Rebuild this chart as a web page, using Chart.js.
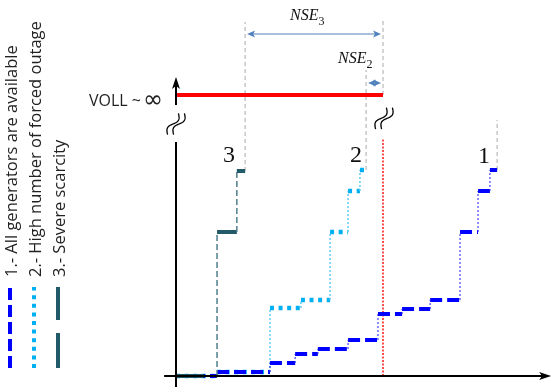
<!DOCTYPE html>
<html><head><meta charset="utf-8">
<script src="https://cdn.jsdelivr.net/npm/chart.js@4.4.1/dist/chart.umd.min.js"></script>
<style>html,body{margin:0;padding:0;background:#fff;}canvas{display:block;}</style>
</head><body>
<canvas id="c" width="552" height="388"></canvas>
<script>
// ---------- data ----------
const seriesLabels = ["1.- All generators are available", "2.- High number of forced outage", "3.- Severe scarcity"];
const curveTags = ["1", "2", "3"];
// supply curves: block edges (quantity) and block prices
const s1Edges  = [0, 11.4, 26.1, 33.1, 39.4, 47.8, 56.1, 62.8, 70.6, 78.9, 83.9, 87.2, 89.2];
const s1Prices = [0, 2, 6.5, 11, 13.5, 18, 31, 33.5, 38, 72, 92.5, 103];
const s2Edges  = [0, 11.4, 26.1, 34.7, 42.8, 47.8, 51.1, 52.8];
const s2Prices = [0, 2, 34, 38, 72, 92.5, 103];
const s3Edges  = [0, 11.4, 16.9, 19.2];
const s3Prices = [0, 72, 102.5];
const demand = 57.5;      // inelastic demand quantity
const voll = 140.5;       // value of lost load level (beyond axis break)
const nse3 = [19.2, 57.5];  // non-served energy, scenario 3
const nse2 = [52.8, 57.5];  // non-served energy, scenario 2

function stepPoints(edges, prices) {
  const pts = [];
  for (let i = 0; i < prices.length; i++) {
    pts.push({x: edges[i], y: prices[i]});
    pts.push({x: edges[i + 1], y: prices[i]});
  }
  return pts;
}
function stepSeg(h, v) {
  const isH = c => c.p0.parsed.y === c.p1.parsed.y;
  return {
    borderWidth: c => isH(c) ? h.w : v.w,
    borderColor: c => isH(c) ? h.c : v.c,
    borderDash: c => isH(c) ? h.d : v.d
  };
}
const styles = [
  {h: {c: '#0000ff', w: 4, d: [12, 5]}, v: {c: 'rgba(40,40,255,0.7)', w: 1.5, d: [2, 2]}},
  {h: {c: '#00b0f0', w: 4.5, d: [4, 4.6]}, v: {c: '#62cdf3', w: 1.5, d: [2, 2]}},
  {h: {c: '#235a69', w: 4, d: [28, 12]}, v: {c: '#4f7f8c', w: 1.5, d: [6, 3]}}
];
const curves = [stepPoints(s1Edges, s1Prices), stepPoints(s2Edges, s2Prices), stepPoints(s3Edges, s3Prices)];
const tops = [s1Prices[s1Prices.length - 1], s2Prices[s2Prices.length - 1], s3Prices[s3Prices.length - 1]];
const ends = [s1Edges[s1Edges.length - 1], s2Edges[s2Edges.length - 1], s3Edges[s3Edges.length - 1]];

const datasets = [];
curves.forEach((pts, i) => {
  datasets.push({
    label: seriesLabels[i], data: pts, pointRadius: 0, clip: false, fill: false,
    borderColor: styles[i].h.c, borderWidth: styles[i].h.w,
    segment: stepSeg(styles[i].h, styles[i].v), order: i === 1 ? 2 : (i === 0 ? 1 : 0)
  });
});
// guides (grey dashed) at end of each curve and at demand
const guideDefs = [
  {x: ends[2], y0: tops[2], y1: 177},
  {x: ends[1], y0: tops[1], y1: 153},
  {x: demand, y0: voll, y1: 179},
  {x: ends[0], y0: tops[0], y1: 128}
];
guideDefs.forEach(g => datasets.push({
  label: '_guide', data: [{x: g.x, y: g.y0}, {x: g.x, y: g.y1}], pointRadius: 0, clip: false,
  borderColor: '#aaaaaa', borderWidth: 1, borderDash: [4, 3], order: 5
}));
datasets.push({label: '_demand', data: [{x: demand, y: 0}, {x: demand, y: 119}], pointRadius: 0, clip: false,
  borderColor: '#ff5050', borderWidth: 2, borderDash: [2, 1.5], order: 4});
datasets.push({label: '_voll', data: [{x: 0.3, y: voll}, {x: demand, y: voll}], pointRadius: 0, clip: false,
  borderColor: '#ff0000', borderWidth: 4, order: 3});

function arrowHead(ctx, x, y, dir, len, half) {
  ctx.beginPath();
  ctx.moveTo(x, y);
  ctx.lineTo(x - dir * len, y - half);
  ctx.lineTo(x - dir * len * 0.75, y);
  ctx.lineTo(x - dir * len, y + half);
  ctx.closePath();
  ctx.fill();
}
function squiggle(ctx, cx, cy) {
  ctx.save();
  ctx.strokeStyle = '#000'; ctx.lineWidth = 1.3;
  const ux = 0.45, uy = -0.89, nx = 0.89, ny = 0.45;
  [-3, 3].forEach(dx => {
    ctx.beginPath();
    for (let k = 0; k <= 30; k++) {
      const t = -1 + 2 * k / 30;
      const a = t * 12, p = 3.2 * Math.sin(Math.PI * t);
      const x = cx + dx + ux * a + nx * p, y = cy + uy * a + ny * p;
      if (k === 0) ctx.moveTo(x, y); else ctx.lineTo(x, y);
    }
    ctx.stroke();
  });
  ctx.restore();
}

const deco = {
  id: 'deco',
  afterDatasetsDraw(chart) {
    const ctx = chart.ctx, xs = chart.scales.x, ys = chart.scales.y;
    const X = v => xs.getPixelForValue(v), Y = v => ys.getPixelForValue(v);
    ctx.save();
    // axes
    ctx.strokeStyle = '#000'; ctx.fillStyle = '#000'; ctx.lineWidth = 2;
    ctx.beginPath(); ctx.moveTo(X(0), Y(-5.5)); ctx.lineTo(X(0), Y(117)); ctx.stroke();
    ctx.beginPath(); ctx.moveTo(X(0), Y(135.5)); ctx.lineTo(X(0), Y(145)); ctx.stroke();
    ctx.beginPath(); ctx.moveTo(X(0), Y(149.5)); ctx.lineTo(X(0) - 4, Y(149.5) + 12); ctx.lineTo(X(0), Y(149.5) + 9); ctx.lineTo(X(0) + 4, Y(149.5) + 12); ctx.closePath(); ctx.fill();
    ctx.beginPath(); ctx.moveTo(X(-3.3), Y(0)); ctx.lineTo(X(102), Y(0)); ctx.stroke();
    arrowHead(ctx, X(104.2), Y(0), 1, 12, 4);
    squiggle(ctx, X(0), Y(126));
    squiggle(ctx, X(demand) + 1, Y(128.8));
    // NSE arrows
    ctx.strokeStyle = '#4f81bd'; ctx.fillStyle = '#4f81bd'; ctx.lineWidth = 1.2;
    [[nse3, 171], [nse2, 146.5]].forEach(([r, yv]) => {
      const a = X(r[0]) + 2, b = X(r[1]) - 2, y = Y(yv);
      ctx.beginPath(); ctx.moveTo(a + 4, y); ctx.lineTo(b - 4, y); ctx.stroke();
      arrowHead(ctx, a, y, -1, 8, 3.5);
      arrowHead(ctx, b, y, 1, 8, 3.5);
    });
    // NSE labels
    ctx.fillStyle = '#111'; ctx.textBaseline = 'alphabetic'; ctx.textAlign = 'left';
    [['3', 290, 20], ['2', 338, 63]].forEach(([sub, x, base]) => {
      ctx.font = 'italic 16px "Liberation Serif"';
      ctx.fillText('NSE', x, base);
      const w = ctx.measureText('NSE').width;
      ctx.font = '12px "Liberation Serif"';
      ctx.fillText(sub, x + w, base + 5);
    });
    // curve tags
    ctx.font = '24px "Liberation Serif"'; ctx.textAlign = 'center'; ctx.textBaseline = 'alphabetic';
    [[0, 484, 163], [1, 356, 162], [2, 229, 162]].forEach(([i, x, y]) => ctx.fillText(curveTags[i], x, y));
    // VOLL text
    ctx.textAlign = 'right'; ctx.font = '16px "Open Sans"'; ctx.fillStyle = '#222';
    ctx.fillText('VOLL ~', 141, 106);
    ctx.textAlign = 'left'; ctx.font = '24px "DejaVu Sans"';
    ctx.fillText('∞', 143, 107);
    // legend (rotated)
    const lx = [11, 35, 59];
    ctx.font = '15px "Open Sans"';
    const targets = [227, 250, 144];
    let ratio = 0;
    lx.forEach((x, i) => { ratio += targets[i] / ctx.measureText(chart.data.datasets[i].label).width; });
    const fs = Math.round(15 * ratio / 3 * 2) / 2;
    lx.forEach((x, i) => {
      const st = styles[i].h;
      ctx.save();
      ctx.strokeStyle = st.c; ctx.lineWidth = 4; ctx.setLineDash(i === 2 ? [35, 13] : st.d);
      ctx.beginPath(); ctx.moveTo(x - 1, 368); ctx.lineTo(x - 1, 287); ctx.stroke();
      ctx.restore();
      ctx.save();
      ctx.translate(x + 1, 277); ctx.rotate(-Math.PI / 2);
      ctx.font = fs + 'px "Open Sans"'; ctx.fillStyle = '#222'; ctx.textAlign = 'left'; ctx.textBaseline = 'middle';
      ctx.fillText(chart.data.datasets[i].label, 0, 0);
      ctx.restore();
    });
    ctx.restore();
  }
};

new Chart(document.getElementById('c'), {
  type: 'line',
  data: {datasets},
  options: {
    responsive: false, animation: false, devicePixelRatio: 1,
    layout: {padding: {left: 176, right: 16, top: 0, bottom: 12}},
    scales: {
      x: {type: 'linear', min: 0, max: 100, display: false},
      y: {type: 'linear', min: 0, max: 188, display: false}
    },
    plugins: {legend: {display: false}, tooltip: {enabled: false}}
  },
  plugins: [deco]
});
</script>
</body></html>
